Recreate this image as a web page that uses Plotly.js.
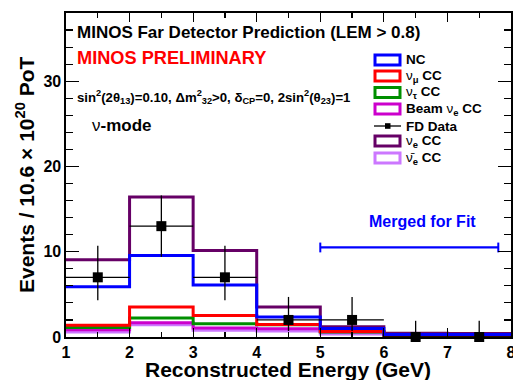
<!DOCTYPE html>
<html>
<head>
<meta charset="utf-8">
<script src="https://cdn.plot.ly/plotly-3.0.1.min.js"></script>
<style>
  html, body { margin: 0; padding: 0; background: #fff; }
  #chart { width: 513px; height: 380px; }
</style>
</head>
<body>
<div id="chart"></div>
<script>
// Reconstructed energy bin edges (GeV)
const binEdges = [1, 2, 3, 4, 5, 6, 7, 8];
const binCenters = [1.5, 2.5, 3.5, 4.5, 5.5, 6.5, 7.5];

// Predicted events per bin for each component
const ncPred        = [5.9, 9.55, 6.1, 2.36, 1.0, 0.3, 0.3];
const numuCCPred    = [1.38, 3.53, 2.51, 1.46, 0.65, 0.2, 0.2];
const nutauCCPred   = [1.11, 2.24, 1.54, 1.44, 0.6, 0.15, 0.15];
const beamNueCCPred = [0.84, 1.66, 1.07, 0.96, 0.62, 0.25, 0.25];
const nueCCPred     = [9.06, 16.43, 10.15, 3.53, 1.19, 0.45, 0.42];
const nuebarCCPred  = [0.58, 1.43, 0.8, 0.7, 0.35, 0.22, 0.2];

// Far Detector data with asymmetric Poisson errors
const fdData   = [7, 13, 7, 2, 2, 0, 0];
const fdErrHi  = [3.7, 3.6, 3.7, 2.7, 2.7, 1.9, 1.9];
const fdErrLo  = [2.7, 3.6, 2.7, 1.3, 1.3, 0, 0];

// Bins merged for the fit
const mergedRange = [5, 7.8];
const mergedLevel = 10.5;

const FONT = '"Liberation Sans", Arial, Helvetica, sans-serif';
const COLORS = {
  nc: '#0000ff', numu: '#ff0000', nutau: '#008f00', beamNue: '#cc00cc',
  nue: '#660066', nuebar: '#cc77ff', data: '#000000'
};

// step outline: repeat last bin value so the final bin gets its top edge
function stepY(vals) { return vals.concat([vals[vals.length - 1]]); }
function stepTrace(vals, color) {
  return {
    x: binEdges, y: stepY(vals), type: 'scatter', mode: 'lines',
    line: { shape: 'hv', color: color, width: 3 },
    hoverinfo: 'skip'
  };
}

const traces = [
  stepTrace(nuebarCCPred, COLORS.nuebar),
  stepTrace(nueCCPred, COLORS.nue),
  stepTrace(beamNueCCPred, COLORS.beamNue),
  stepTrace(nutauCCPred, COLORS.nutau),
  stepTrace(numuCCPred, COLORS.numu),
  stepTrace(ncPred, COLORS.nc),
  {
    x: binCenters, y: fdData, type: 'scatter', mode: 'markers',
    marker: { symbol: 'square', size: 10, color: COLORS.data },
    error_y: { type: 'data', symmetric: false, array: fdErrHi, arrayminus: fdErrLo,
               color: COLORS.data, thickness: 1.3, width: 0 },
    error_x: { type: 'constant', value: 0.5, color: COLORS.data, thickness: 1.3, width: 0 },
    cliponaxis: false
  },
  {
    x: mergedRange, y: [mergedLevel, mergedLevel], type: 'scatter', mode: 'lines+markers',
    line: { color: COLORS.nc, width: 2.2 },
    marker: { symbol: 'line-ns-open', size: 7, color: COLORS.nc, line: { color: COLORS.nc, width: 2 } }
  }
];

// pixel -> paper helpers for text and key placement
const M = { l: 66, r: 2, t: 13, b: 43 };
const W = 513, H = 380;
const PW = W - M.l - M.r, PH = H - M.t - M.b;
const px = x => (x - M.l) / PW;
const py = y => (H - M.b - y) / PH;

const annotations = [];
function addText(text, x, y, opts) {
  annotations.push(Object.assign({
    text: text, xref: 'paper', yref: 'paper', x: px(x), y: py(y),
    xanchor: 'left', yanchor: 'middle', showarrow: false, borderpad: 0,
    font: { family: FONT, size: 14, color: '#000', weight: 'bold' }
  }, opts || {}));
}

addText('MINOS Far Detector Prediction (LEM &gt; 0.8)', 76, 32.5, { font: { family: FONT, size: 17, color: '#000', weight: 'bold' } });
addText('MINOS PRELIMINARY', 76, 58, { font: { family: FONT, size: 18.2, color: '#ff0000', weight: 'bold' } });
addText('sin<sup>2</sup>(2θ<sub>13</sub>)=0.10, Δm<sup>2</sup><sub>32</sub>&gt;0, δ<sub>CP</sub>=0, 2sin<sup>2</sup>(θ<sub>23</sub>)=1',
        76, 97, { font: { family: FONT, size: 13.2, color: '#000', weight: 'bold' } });
addText('<span style="font-weight:normal">ν</span>-mode', 91, 125, { font: { family: FONT, size: 17, color: '#000', weight: 'bold' } });
addText('Merged for Fit', 422.5, 221, { xanchor: 'center', font: { family: FONT, size: 16, color: COLORS.nc, weight: 'bold' } });

// axis titles
addText('Reconstructed Energy (GeV)', 288, 369.5, { xanchor: 'center', font: { family: FONT, size: 21, color: '#000', weight: 'bold' } });
addText('Events / 10.6 × 10<sup>20</sup> PoT', 25, 175, { xanchor: 'center', textangle: -90, font: { family: FONT, size: 21, color: '#000', weight: 'bold' } });

// key
const keyRows = [
  { label: 'NC', color: COLORS.nc, y: 60 },
  { label: '<span style="font-weight:normal">ν</span><sub>μ</sub> CC', color: COLORS.numu, y: 76 },
  { label: '<span style="font-weight:normal">ν</span><sub>τ</sub> CC', color: COLORS.nutau, y: 92.5 },
  { label: 'Beam <span style="font-weight:normal">ν</span><sub>e</sub> CC', color: COLORS.beamNue, y: 109 },
  { label: 'FD Data', color: null, y: 126 },
  { label: '<span style="font-weight:normal">ν</span><sub>e</sub> CC', color: COLORS.nue, y: 141 },
  { label: '<span style="font-weight:normal">ν\u0304</span><sub>e</sub> CC', color: COLORS.nuebar, y: 158 }
];
const shapes = [];
keyRows.forEach(r => {
  if (r.color) {
    shapes.push({ type: 'rect', xref: 'paper', yref: 'paper',
      x0: px(375), x1: px(400), y0: py(r.y + 5), y1: py(r.y - 5),
      line: { color: r.color, width: 3 }, fillcolor: 'rgba(0,0,0,0)' });
  } else {
    shapes.push({ type: 'line', xref: 'paper', yref: 'paper',
      x0: px(374), x1: px(401), y0: py(r.y), y1: py(r.y), line: { color: '#000', width: 1.3 } });
    shapes.push({ type: 'rect', xref: 'paper', yref: 'paper',
      x0: px(385), x1: px(390.5), y0: py(r.y + 2.8), y1: py(r.y - 2.8),
      line: { color: '#000', width: 0 }, fillcolor: '#000' });
  }
  addText(r.label, 405, r.y, { font: { family: FONT, size: 13.5, color: '#000', weight: 'bold' } });
});

const axisCommon = {
  ticks: 'inside', tickcolor: '#000', tickwidth: 1.2,
  showline: true, linecolor: '#000', linewidth: 1.6, mirror: 'allticks',
  showgrid: false, zeroline: false, ticklabeloverflow: 'allow',
  tickfont: { family: FONT, size: 16, color: '#000', weight: 'bold' }
};

const layout = {
  width: W, height: H, margin: M,
  paper_bgcolor: '#fff', plot_bgcolor: '#fff',
  showlegend: false,
  xaxis: Object.assign({}, axisCommon, {
    range: [1, 8], tick0: 1, dtick: 1, ticklen: 9,
    minor: { dtick: 0.5, ticks: 'inside', ticklen: 5, tickcolor: '#000', tickwidth: 1.2 }
  }),
  yaxis: Object.assign({}, axisCommon, {
    range: [0, 38], tick0: 0, dtick: 10, ticklen: 13,
    minor: { dtick: 2, ticks: 'inside', ticklen: 7, tickcolor: '#000', tickwidth: 1.2 }
  }),
  annotations: annotations,
  shapes: shapes
};

Plotly.newPlot('chart', traces, layout, { displayModeBar: false, staticPlot: true });
</script>
</body>
</html>
